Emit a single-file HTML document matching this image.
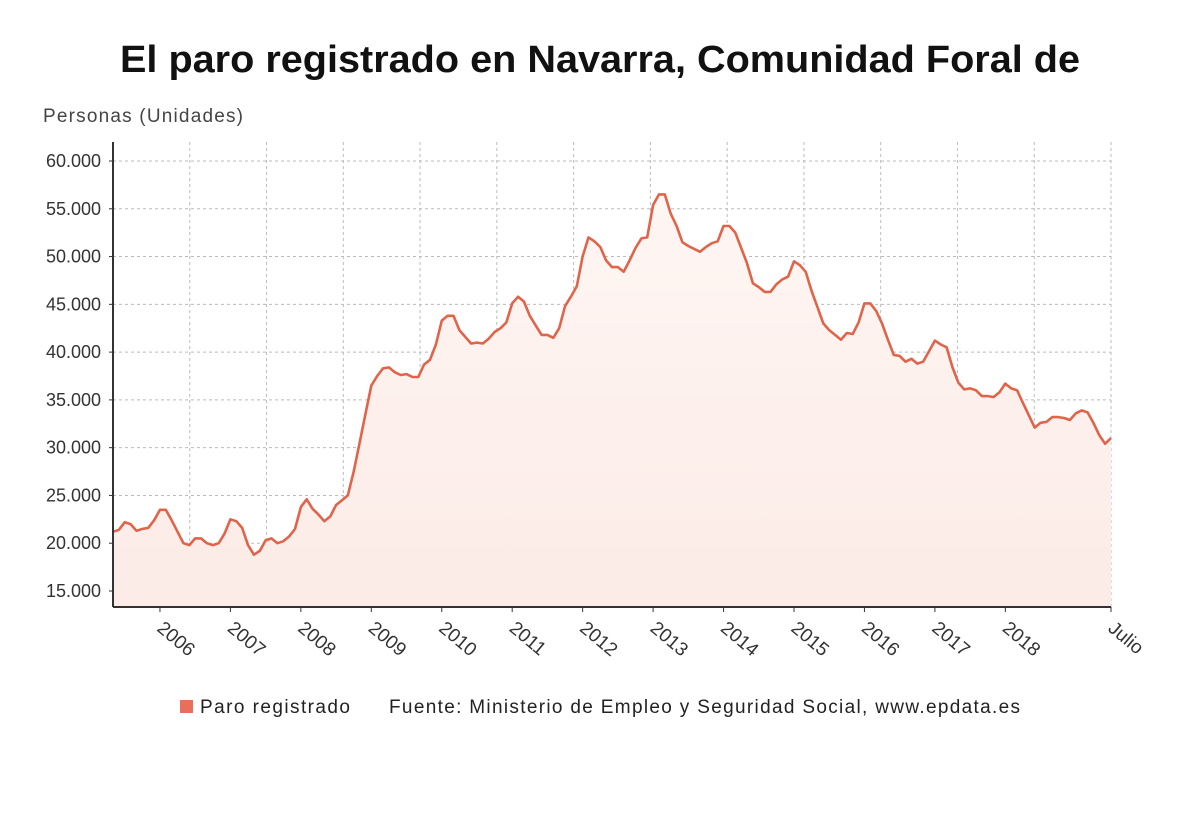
<!DOCTYPE html>
<html><head><meta charset="utf-8"><style>
body{margin:0;width:1200px;height:808px;background:#fff;font-family:"Liberation Sans",sans-serif;overflow:hidden}
</style></head><body>
<svg width="1200" height="808" id="svg">
<defs><linearGradient id="g" x1="0" y1="0" x2="0" y2="1"><stop offset="0" stop-color="#fef6f3"/><stop offset="1" stop-color="#fcebe6"/></linearGradient></defs>
<text x="120" y="72" font-size="38" font-weight="bold" fill="#111" textLength="960" lengthAdjust="spacingAndGlyphs">El paro registrado en Navarra, Comunidad Foral de</text>
<text x="43" y="122" font-size="19" fill="#444" textLength="200">Personas (Unidades)</text>
<g id="grid"></g><g id="series"></g><g id="axes"></g>
<g>
<rect x="180" y="700" width="13" height="13" fill="#e8705a"/>
<text x="200" y="713" font-size="19" fill="#222" textLength="150">Paro registrado</text>
<text x="389" y="713" font-size="19" fill="#222" textLength="631">Fuente: Ministerio de Empleo y Seguridad Social, www.epdata.es</text>
</g>
</svg>
<script>
const yTicks=[15000,20000,25000,30000,35000,40000,45000,50000,55000,60000];
const yearLabels=["2006","2007","2008","2009","2010","2011","2012","2013","2014","2015","2016","2017","2018"];
const endLabel="Julio";
const values=[21.2,21.4,22.2,22.0,21.3,21.5,21.6,22.4,
23.5,23.5,22.4,21.2,20.0,19.8,20.5,20.5,20.0,19.8,20.0,21.0,
22.5,22.3,21.6,19.8,18.8,19.2,20.3,20.5,20.0,20.2,20.7,21.5,
23.8,24.6,23.6,23.0,22.3,22.8,24.0,24.5,25.0,27.5,30.5,33.5,
36.5,37.5,38.3,38.4,37.9,37.6,37.7,37.4,37.4,38.7,39.2,40.8,
43.3,43.8,43.8,42.3,41.6,40.9,41.0,40.9,41.4,42.1,42.5,43.1,
45.1,45.8,45.3,43.8,42.8,41.8,41.8,41.5,42.5,44.8,45.8,46.9,
50.0,52.0,51.6,51.0,49.6,48.9,48.9,48.4,49.6,50.9,51.9,52.0,
55.4,56.5,56.5,54.5,53.2,51.5,51.1,50.8,50.5,51.0,51.4,51.6,
53.2,53.2,52.5,50.9,49.3,47.2,46.8,46.3,46.3,47.1,47.6,47.9,
49.5,49.1,48.4,46.4,44.7,43.0,42.3,41.8,41.3,42.0,41.9,43.1,
45.1,45.1,44.3,43.0,41.3,39.7,39.6,39.0,39.3,38.8,39.0,40.1,
41.2,40.8,40.5,38.4,36.8,36.1,36.2,36.0,35.4,35.4,35.3,35.8,
36.7,36.2,36.0,34.7,33.4,32.1,32.6,32.7,33.2,33.2,33.1,32.9,
33.6,33.9,33.7,32.6,31.3,30.4,31.0].map(v=>v*1000);
const NS="http://www.w3.org/2000/svg";
const x0=113,x1=1111,yBase=607;
const xs=i=>x0+(x1-x0)*i/(values.length-1);
const ys=v=>161+(60000-v)*(591-161)/45000;
function mk(t,a,p){const e=document.createElementNS(NS,t);for(const k in a)e.setAttribute(k,a[k]);p.appendChild(e);return e;}
const grid=document.getElementById('grid'),ser=document.getElementById('series'),ax=document.getElementById('axes');
yTicks.forEach(t=>{const y=ys(t);
const l=mk('line',{x1:x0,x2:x1,y1:y,y2:y,stroke:'#bbb','stroke-dasharray':'3,3'},grid);


const tx=mk('text',{x:101,y:y+6,'text-anchor':'end','font-size':18,fill:'#333'},ax);
tx.textContent=t.toLocaleString('de-DE');


mk('line',{x1:109,x2:113,y1:y,y2:y,stroke:'#333'},ax);
});
for(let k=1;k<=13;k++){const x=x0+(x1-x0)*k/13;
const l=mk('line',{x1:x,x2:x,y1:142,y2:yBase,stroke:'#bbb','stroke-dasharray':'3,3'},grid);

}
let d='';values.forEach((v,i)=>{d+=(i?'L':'M')+xs(i).toFixed(1)+','+ys(v).toFixed(1);});
const area=mk('path',{d:d+`L${x1},${yBase}L${x0},${yBase}Z`,fill:'url(#g)'},ser);


const line=mk('path',{d:d,fill:'none',stroke:'#e0644a','stroke-width':2.6,'stroke-linejoin':'round'},ser);


mk('line',{x1:x0,x2:x0,y1:142,y2:yBase,stroke:'#333','stroke-width':2},ax);
mk('line',{x1:x0,x2:x1,y1:yBase,y2:yBase,stroke:'#333','stroke-width':2},ax);
yearLabels.forEach((lab,k)=>{const x=xs(8+k*12);
mk('line',{x1:x,x2:x,y1:yBase,y2:yBase+5,stroke:'#333'},ax);
const t=mk('text',{x:x-4,y:630,'font-size':19,fill:'#333',transform:`rotate(40 ${x-4} 630)`},ax);
t.textContent=lab;

});
mk('line',{x1:x1,x2:x1,y1:yBase,y2:yBase+5,stroke:'#333'},ax);
const te=mk('text',{x:x1-4,y:630,'font-size':19,fill:'#333',transform:`rotate(40 ${x1-4} 630)`},ax);
te.textContent=endLabel;


</script>
</body></html>
